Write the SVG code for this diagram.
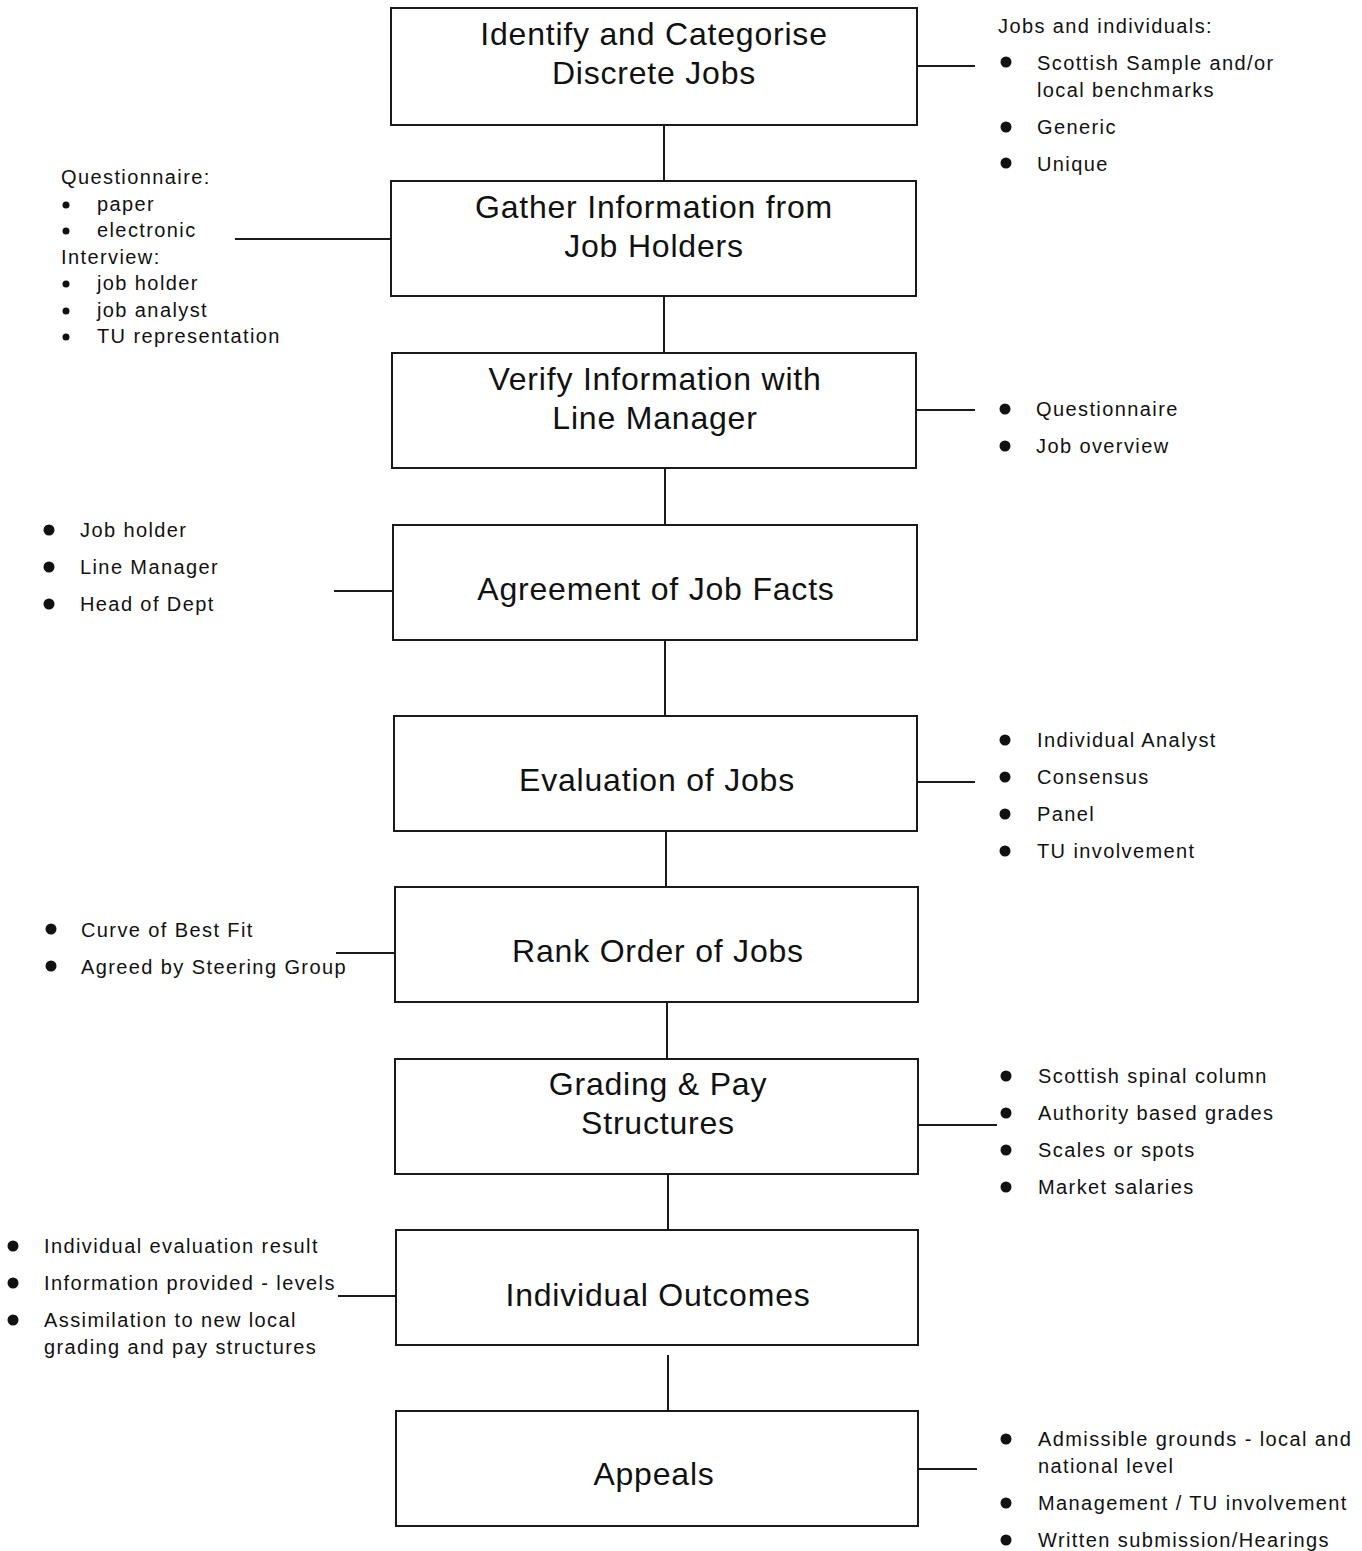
<svg xmlns="http://www.w3.org/2000/svg" width="1362" height="1551" viewBox="0 0 1362 1551">
<style>
.box{fill:#fff;stroke:#1a1a1a;stroke-width:2}
.ln{stroke:#1a1a1a;stroke-width:2;fill:none}
.t{font-family:"Liberation Sans",Arial,sans-serif;font-size:32px;letter-spacing:0.8px;fill:#111;text-anchor:middle}
.s{font-family:"Liberation Sans",Arial,sans-serif;font-size:20px;letter-spacing:1.4px;fill:#111}
.b{fill:#111}
</style>
<rect width="1362" height="1551" fill="#fff"/>
<g id="connectors">
<path class="ln" d="M664 125V181M664 296V353M665 468V525M665 640V716M666 831V887M667 1002V1059M668 1174V1230M668 1355V1411"/>
<path class="ln" d="M917 66H975M235 239H391M917 410H975M334 591H393M917 782H975M336 953H395M918 1125H997M338 1296H396M918 1469H977"/>
</g>
<g id="n1"><rect class="box" x="391" y="8" width="526" height="117"/><text class="t" x="654" y="45">Identify and Categorise</text><text class="t" x="654" y="84">Discrete Jobs</text></g>
<g id="n2"><rect class="box" x="391" y="181" width="525" height="115"/><text class="t" x="654" y="218">Gather Information from</text><text class="t" x="654" y="257">Job Holders</text></g>
<g id="n3"><rect class="box" x="392" y="353" width="524" height="115"/><text class="t" x="655" y="390">Verify Information with</text><text class="t" x="655" y="429">Line Manager</text></g>
<g id="n4"><rect class="box" x="393" y="525" width="524" height="115"/><text class="t" x="656" y="600">Agreement of Job Facts</text></g>
<g id="n5"><rect class="box" x="394" y="716" width="523" height="115"/><text class="t" x="657" y="791">Evaluation of Jobs</text></g>
<g id="n6"><rect class="box" x="395" y="887" width="523" height="115"/><text class="t" x="658" y="962">Rank Order of Jobs</text></g>
<g id="n7"><rect class="box" x="395" y="1059" width="523" height="115"/><text class="t" x="658" y="1095">Grading &amp; Pay</text><text class="t" x="658" y="1134">Structures</text></g>
<g id="n8"><rect class="box" x="396" y="1230" width="522" height="115"/><text class="t" x="658" y="1306">Individual Outcomes</text></g>
<g id="n9"><rect class="box" x="396" y="1411" width="522" height="115"/><text class="t" x="654" y="1485">Appeals</text></g>

<g id="notes1">
<text class="s" x="998" y="33">Jobs and individuals:</text>
<circle class="b" cx="1006" cy="62" r="5.5"/><text class="s" x="1037" y="70">Scottish Sample and/or</text>
<text class="s" x="1037" y="97">local benchmarks</text>
<circle class="b" cx="1006" cy="127" r="5.5"/><text class="s" x="1037" y="134">Generic</text>
<circle class="b" cx="1006" cy="163" r="5.5"/><text class="s" x="1037" y="171">Unique</text>
</g>
<g id="notes2">
<text class="s" x="61" y="184">Questionnaire:</text>
<circle class="b" cx="66" cy="205" r="3.5"/><text class="s" x="97" y="211">paper</text>
<circle class="b" cx="66" cy="231" r="3.5"/><text class="s" x="97" y="237">electronic</text>
<text class="s" x="61" y="264">Interview:</text>
<circle class="b" cx="66" cy="284" r="3.5"/><text class="s" x="97" y="290">job holder</text>
<circle class="b" cx="66" cy="311" r="3.5"/><text class="s" x="97" y="317">job analyst</text>
<circle class="b" cx="66" cy="337" r="3.5"/><text class="s" x="97" y="343">TU representation</text>
</g>
<g id="notes3">
<circle class="b" cx="1005" cy="409" r="5.5"/><text class="s" x="1036" y="416">Questionnaire</text>
<circle class="b" cx="1005" cy="446" r="5.5"/><text class="s" x="1036" y="453">Job overview</text>
</g>
<g id="notes4">
<circle class="b" cx="49" cy="530" r="5.5"/><text class="s" x="80" y="537">Job holder</text>
<circle class="b" cx="49" cy="567" r="5.5"/><text class="s" x="80" y="574">Line Manager</text>
<circle class="b" cx="49" cy="604" r="5.5"/><text class="s" x="80" y="611">Head of Dept</text>
</g>
<g id="notes5">
<circle class="b" cx="1005" cy="740" r="5.5"/><text class="s" x="1037" y="747">Individual Analyst</text>
<circle class="b" cx="1005" cy="777" r="5.5"/><text class="s" x="1037" y="784">Consensus</text>
<circle class="b" cx="1005" cy="814" r="5.5"/><text class="s" x="1037" y="821">Panel</text>
<circle class="b" cx="1005" cy="851" r="5.5"/><text class="s" x="1037" y="858">TU involvement</text>
</g>
<g id="notes6">
<circle class="b" cx="51" cy="929" r="5.5"/><text class="s" x="81" y="937">Curve of Best Fit</text>
<circle class="b" cx="51" cy="966" r="5.5"/><text class="s" x="81" y="974">Agreed by Steering Group</text>
</g>
<g id="notes7">
<circle class="b" cx="1006" cy="1076" r="5.5"/><text class="s" x="1038" y="1083">Scottish spinal column</text>
<circle class="b" cx="1006" cy="1113" r="5.5"/><text class="s" x="1038" y="1120">Authority based grades</text>
<circle class="b" cx="1006" cy="1150" r="5.5"/><text class="s" x="1038" y="1157">Scales or spots</text>
<circle class="b" cx="1006" cy="1187" r="5.5"/><text class="s" x="1038" y="1194">Market salaries</text>
</g>
<g id="notes8">
<circle class="b" cx="13" cy="1246" r="5.5"/><text class="s" x="44" y="1253">Individual evaluation result</text>
<circle class="b" cx="13" cy="1283" r="5.5"/><text class="s" x="44" y="1290">Information provided - levels</text>
<circle class="b" cx="13" cy="1320" r="5.5"/><text class="s" x="44" y="1327">Assimilation to new local</text>
<text class="s" x="44" y="1354">grading and pay structures</text>
</g>
<g id="notes9">
<circle class="b" cx="1006" cy="1439" r="5.5"/><text class="s" x="1038" y="1446">Admissible grounds - local and</text>
<text class="s" x="1038" y="1473">national level</text>
<circle class="b" cx="1006" cy="1503" r="5.5"/><text class="s" x="1038" y="1510">Management / TU involvement</text>
<circle class="b" cx="1006" cy="1540" r="5.5"/><text class="s" x="1038" y="1547">Written submission/Hearings</text>
</g>
</svg>
